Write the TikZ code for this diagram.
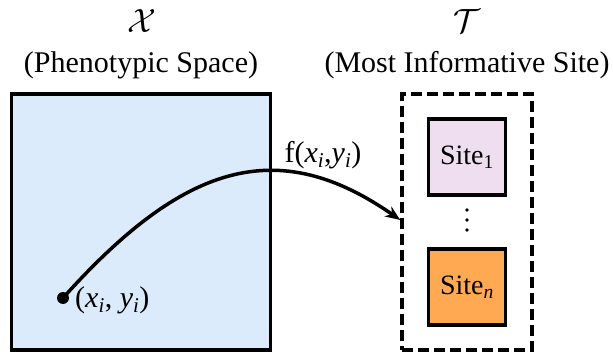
\documentclass[tikz,border=0pt]{standalone}
\usepackage{fontspec}
\setmainfont{Liberation Serif}
\usetikzlibrary{arrows.meta}
\definecolor{spaceblue}{RGB}{220,235,252}
\definecolor{sitelav}{RGB}{238,222,240}
\definecolor{siteorange}{RGB}{255,170,82}
\begin{document}
\begin{tikzpicture}[x=1pt,y=-1pt,
  every node/.style={font=\fontsize{30}{34}\selectfont, inner sep=0pt},
  spacebox/.style={draw, line width=3.5pt, fill=spaceblue},
  sitebox/.style={draw, line width=3.5pt, minimum width=77pt, minimum height=76pt, font=\fontsize{28}{32}\selectfont},
  dashbox/.style={draw, line width=3.5pt, dash pattern=on 11pt off 5pt},
  conn/.style={line width=3.5pt, -{Stealth[length=15pt,width=12pt]}}]
\useasboundingbox (0,0) rectangle (613,355);
\node[spacebox, minimum width=259pt, minimum height=256pt] (space) at (141,222) {};
\node[dashbox, minimum width=130pt, minimum height=256pt] (tset) at (467,222) {};
\node[sitebox, fill=sitelav] (s1) at (467,157) {Site\textsubscript{1}};
\node[sitebox, fill=siteorange] (sn) at (467,287) {Site\textsubscript{\textit{n}}};
\foreach \yy in {210,220,230} \fill (467,\yy) circle (1.8pt);
\node (xlab) at (142,21) {\scalebox{1.35}{$\mathcal{X}$}};
\node (plab) at (141,65) {(Phenotypic Space)};
\node (tlab) at (467,21) {\scalebox{1.35}{$\mathcal{T}$}};
\node (mlab) at (467,65) {(Most Informative Site)};
\fill (63,298) circle (6pt);
\coordinate (pt) at (63,298);
\node[anchor=west] (ptlab) at (75,300) {(\textit{x\textsubscript{i}}, \textit{y\textsubscript{i}})};
\coordinate (tin) at (tset.west |- 0,220);
\draw[conn] (pt) .. controls (183,164) and (277,134) .. (tin);
\node (flab) at (323,155) {f(\textit{x\textsubscript{i}},\textit{y\textsubscript{i}})};
\end{tikzpicture}
\end{document}
